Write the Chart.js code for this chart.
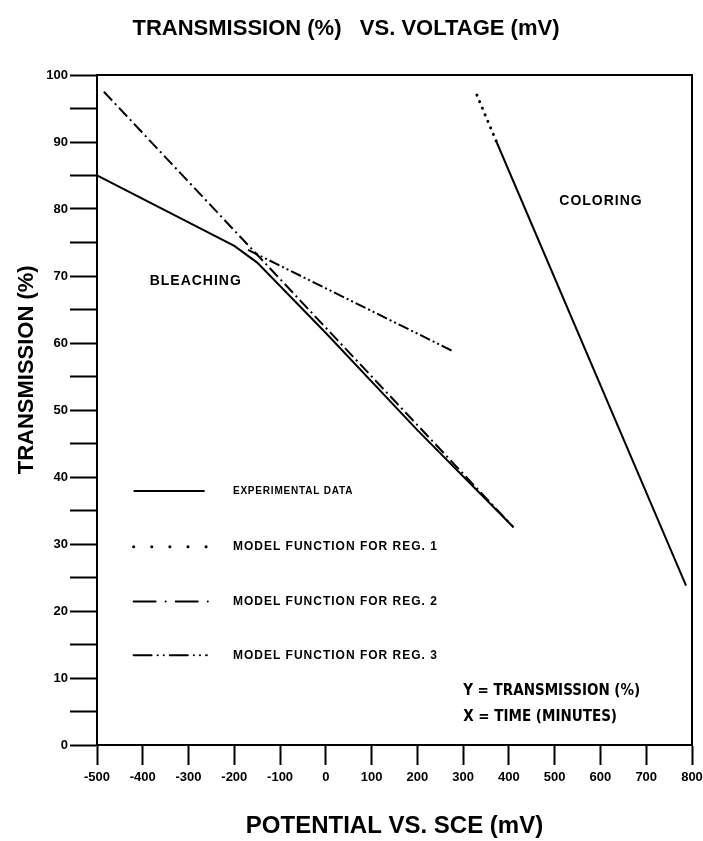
<!DOCTYPE html>
<html>
<head>
<meta charset="utf-8">
<title>Transmission vs. voltage</title>
<script src="https://cdn.jsdelivr.net/npm/chart.js@4.4.1/dist/chart.umd.min.js"></script>
<style>
  html, body { margin: 0; padding: 0; background: #fff; }
  canvas { display: block; }
</style>
</head>
<body>
<canvas id="graph-transmission" width="703" height="841"></canvas>
<script>
// Données (x en mV, y en %)
const expBleachX = [-500, -200, -150, 0, 200, 410];
const expBleachY = [85, 74.5, 72, 61.5, 47, 32.5];
const expColorX = [373, 787];
const expColorY = [90, 23.8];
const reg1X = [330, 373];
const reg1Y = [97, 90];
const reg2X = [-485, 410];
const reg2Y = [97.5, 32.5];
const reg3X = [-170, 280];
const reg3Y = [73.9, 58.7];

const legendLabels = [
    'EXPERIMENTAL DATA',
    'MODEL FUNCTION FOR REG. 1',
    'MODEL FUNCTION FOR REG. 2',
    'MODEL FUNCTION FOR REG. 3'
];

const FONT = '"Liberation Sans", Arial, sans-serif';

function toPoints(xs, ys) {
    return xs.map((x, i) => ({ x: x, y: ys[i] }));
}

function makeDataset(label, xs, ys, dash, width, cap) {
    return {
        label: label,
        data: toPoints(xs, ys),
        showLine: true,
        borderColor: '#000',
        borderWidth: width || 2,
        borderDash: dash || [],
        borderCapStyle: cap || 'butt',
        pointRadius: 0,
        fill: false,
        tension: 0
    };
}

const DOT = [0.1, 7];
const DASH_DOT = [12, 4, 2, 4];
const DASH_DOT_DOT = [11, 3, 2, 3, 2, 3];

// Cadre, légende, titre vertical et annotations dessinés par-dessus
const annotations = {
    id: 'annotations',
    afterDatasetsDraw(chart) {
        const ctx = chart.ctx;
        const area = chart.chartArea;
        const xs = chart.scales.x;
        const ys = chart.scales.y;
        ctx.save();
        ctx.strokeStyle = '#000';
        ctx.lineWidth = 2;
        ctx.strokeRect(area.left, area.top, area.right - area.left, area.bottom - area.top);

        ctx.fillStyle = '#000';
        ctx.textBaseline = 'middle';
        ctx.textAlign = 'left';
        ctx.letterSpacing = '1px';
        ctx.font = 'bold 14px ' + FONT;
        ctx.fillText('BLEACHING', xs.getPixelForValue(-385), ys.getPixelForValue(69.2));
        ctx.fillText('COLORING', xs.getPixelForValue(510), ys.getPixelForValue(81.2));

        // Légende
        const rows = [37.9, 29.6, 21.4, 13.4];
        const styles = [[], [0.1, 18], [22, 10, 0.1, 10], [18, 6, 0.1, 6, 0.1, 6]];
        const ends = [-265, -260, -255, -260];
        const x0 = xs.getPixelForValue(-420);
        const tx = xs.getPixelForValue(-203);
        rows.forEach((r, i) => {
            const py = ys.getPixelForValue(r);
            ctx.beginPath();
            ctx.setLineDash(styles[i]);
            ctx.lineCap = i === 0 ? 'butt' : 'round';
            ctx.lineWidth = i === 1 ? 3 : 2;
            ctx.moveTo(x0, py);
            ctx.lineTo(xs.getPixelForValue(ends[i]), py);
            ctx.stroke();
            ctx.setLineDash([]);
            if (i === 0) {
                ctx.letterSpacing = '0.8px';
                ctx.font = 'bold 10px ' + FONT;
            } else {
                ctx.letterSpacing = '1px';
                ctx.font = 'bold 12px ' + FONT;
            }
            ctx.fillText(legendLabels[i], tx, py);
        });

        ctx.letterSpacing = '0px';
        ctx.font = 'bold 15px "Liberation Sans Narrow", "DejaVu Sans Condensed", sans-serif';
        ctx.fillText('Y = TRANSMISSION (%)', xs.getPixelForValue(300), ys.getPixelForValue(8.1));
        ctx.fillText('X = TIME (MINUTES)', xs.getPixelForValue(300), ys.getPixelForValue(4.1));

        // Titre de l'axe Y (décalé vers le haut comme sur l'original)
        ctx.translate(27, ys.getPixelForValue(56));
        ctx.rotate(-Math.PI / 2);
        ctx.textAlign = 'center';
        ctx.font = 'bold 22px ' + FONT;
        ctx.fillText('TRANSMISSION (%)', 0, 0);
        ctx.restore();
    }
};

const ctx = document.getElementById('graph-transmission').getContext('2d');
const tickFont = { family: FONT, size: 13, weight: 'bold' };

new Chart(ctx, {
    type: 'scatter',
    data: {
        datasets: [
            makeDataset('Experimental data', expBleachX, expBleachY),
            makeDataset('Experimental data (coloring)', expColorX, expColorY),
            makeDataset('Model function for reg. 1', reg1X, reg1Y, DOT, 3, 'round'),
            makeDataset('Model function for reg. 2', reg2X, reg2Y, DASH_DOT, 2),
            makeDataset('Model function for reg. 3', reg3X, reg3Y, DASH_DOT_DOT, 2)
        ]
    },
    options: {
        responsive: false,
        animation: false,
        layout: { padding: { left: 0, right: 11, top: 0, bottom: 0 } },
        plugins: {
            legend: { display: false },
            tooltip: { enabled: false },
            title: {
                display: true,
                text: 'TRANSMISSION (%)   VS. VOLTAGE (mV)',
                color: '#000',
                font: { family: FONT, size: 22, weight: 'bold' },
                padding: { top: 16, bottom: 32.6 }
            }
        },
        scales: {
            x: {
                type: 'linear',
                min: -500,
                max: 800,
                ticks: { stepSize: 100, color: '#000', font: tickFont, padding: 5, maxRotation: 0 },
                grid: { drawOnChartArea: false, drawTicks: true, tickLength: 20, tickWidth: 2, tickColor: '#000' },
                border: { display: true, color: '#000', width: 2 },
                title: {
                    display: true,
                    text: 'POTENTIAL VS. SCE (mV)',
                    color: '#000',
                    font: { family: FONT, size: 24, weight: 'bold' },
                    padding: { top: 0, bottom: 0 }
                },
                afterFit(scale) {
                    scale.height = 96;
                    scale.paddingLeft = 0;
                    scale.paddingRight = 0;
                }
            },
            y: {
                type: 'linear',
                min: 0,
                max: 100,
                ticks: {
                    stepSize: 5,
                    color: '#000',
                    font: tickFont,
                    padding: 2,
                    callback: (v) => (v % 10 === 0 ? v : '')
                },
                grid: { drawOnChartArea: false, drawTicks: true, tickLength: 27, tickWidth: 2, tickColor: '#000' },
                border: { display: true, color: '#000', width: 2 },
                afterFit(scale) {
                    scale.width = 97;
                    scale.paddingTop = 0;
                    scale.paddingBottom = 0;
                }
            }
        }
    },
    plugins: [annotations]
});
</script>
</body>
</html>
